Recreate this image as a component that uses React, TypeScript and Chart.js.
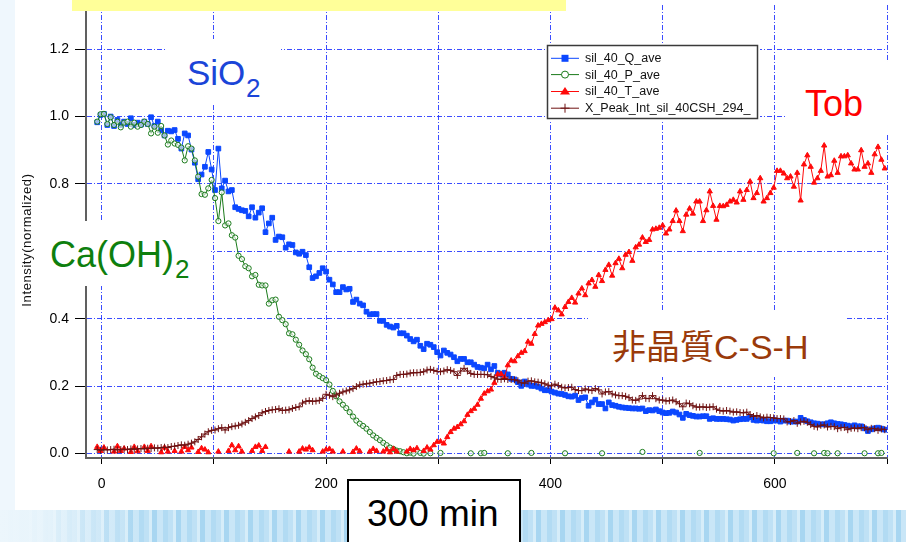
import React, { useEffect, useRef } from 'react';
import { Chart, registerables } from 'chart.js';

Chart.register(...registerables);

// ---------- data ----------
const TIME = [
  -4, -1, 2, 5, 8, 11, 14, 17, 20, 23,
  26, 29, 32, 35, 38, 41, 44, 47, 50, 53,
  56, 59, 62, 65, 68, 71, 74, 77, 80, 83,
  86, 89, 92, 95, 98, 101, 104, 107, 110, 113,
  116, 119, 122, 125, 128, 131, 134, 137, 140, 143,
  146, 149, 152, 155, 158, 161, 164, 167, 170, 173,
  176, 179, 182, 185, 188, 191, 194, 197, 200, 203,
  206, 209, 212, 215, 218, 221, 224, 227, 230, 233,
  236, 239, 242, 245, 248, 251, 254, 257, 260, 263,
  266, 269, 272, 275, 278, 281, 284, 287, 290, 293,
  296, 299, 302, 305, 308, 311, 314, 317, 320, 323,
  326, 329, 332, 335, 338, 341, 344, 347, 350, 353,
  356, 359, 362, 365, 368, 371, 374, 377, 380, 383,
  386, 389, 392, 395, 398, 401, 404, 407, 410, 413,
  416, 419, 422, 425, 428, 431, 434, 437, 440, 443,
  446, 449, 452, 455, 458, 461, 464, 467, 470, 473,
  476, 479, 482, 485, 488, 491, 494, 497, 500, 503,
  506, 509, 512, 515, 518, 521, 524, 527, 530, 533,
  536, 539, 542, 545, 548, 551, 554, 557, 560, 563,
  566, 569, 572, 575, 578, 581, 584, 587, 590, 593,
  596, 599, 602, 605, 608, 611, 614, 617, 620, 623,
  626, 629, 632, 635, 638, 641, 644, 647, 650, 653,
  656, 659, 662, 665, 668, 671, 674, 677, 680, 683,
  686, 689, 692, 695, 698,
];

const SIL_Q = [
  0.983, 1.005, 1.008, 0.975, 1.000, 0.972, 0.990, 0.975, 0.985, 0.978,
  0.995, 0.975, 0.982, 0.976, 0.985, 0.978, 0.998, 0.972, 0.985, 0.960,
  0.944, 0.958, 0.956, 0.960, 0.934, 0.905, 0.950, 0.944, 0.902, 0.863,
  0.814, 0.828, 0.851, 0.895, 0.843, 0.782, 0.905, 0.787, 0.810, 0.778,
  0.782, 0.731, 0.726, 0.722, 0.720, 0.704, 0.731, 0.700, 0.715, 0.728,
  0.657, 0.683, 0.700, 0.634, 0.644, 0.642, 0.611, 0.621, 0.619, 0.597,
  0.593, 0.599, 0.589, 0.553, 0.521, 0.526, 0.536, 0.550, 0.540, 0.516,
  0.502, 0.479, 0.479, 0.494, 0.487, 0.489, 0.450, 0.457, 0.445, 0.440,
  0.421, 0.413, 0.414, 0.414, 0.394, 0.394, 0.382, 0.377, 0.374, 0.379,
  0.357, 0.357, 0.350, 0.340, 0.333, 0.338, 0.320, 0.310, 0.326, 0.323,
  0.316, 0.301, 0.291, 0.306, 0.299, 0.294, 0.286, 0.274, 0.281, 0.281,
  0.271, 0.271, 0.264, 0.257, 0.255, 0.253, 0.264, 0.250, 0.260, 0.240,
  0.235, 0.240, 0.235, 0.222, 0.220, 0.212, 0.201, 0.214, 0.205, 0.201,
  0.201, 0.198, 0.193, 0.188, 0.188, 0.184, 0.181, 0.178, 0.177, 0.174,
  0.170, 0.169, 0.172, 0.159, 0.165, 0.167, 0.142, 0.152, 0.160, 0.147,
  0.147, 0.134, 0.152, 0.144, 0.142, 0.139, 0.137, 0.136, 0.135, 0.134,
  0.134, 0.133, 0.134, 0.126, 0.129, 0.128, 0.131, 0.126, 0.122, 0.120,
  0.121, 0.125, 0.122, 0.116, 0.106, 0.118, 0.114, 0.112, 0.110, 0.110,
  0.111, 0.111, 0.103, 0.105, 0.103, 0.103, 0.103, 0.102, 0.101, 0.098,
  0.100, 0.102, 0.103, 0.103, 0.108, 0.100, 0.098, 0.099, 0.098, 0.096,
  0.096, 0.098, 0.098, 0.095, 0.098, 0.098, 0.095, 0.095, 0.095, 0.106,
  0.100, 0.096, 0.093, 0.090, 0.089, 0.087, 0.087, 0.090, 0.093, 0.090,
  0.088, 0.087, 0.085, 0.083, 0.081, 0.084, 0.081, 0.081, 0.075, 0.067,
  0.072, 0.075, 0.077, 0.074, 0.071,
];

const SIL_P = [
  0.985, 1.007, 1.008, 0.978, 0.998, 0.975, 0.985, 0.968, 0.982, 0.985,
  0.970, 0.982, 0.970, 0.975, 0.985, 0.978, 0.950, 0.970, 0.952, 0.972,
  0.944, 0.917, 0.929, 0.920, 0.916, 0.908, 0.870, 0.912, 0.905, 0.870,
  0.822, 0.770, 0.768, 0.787, 0.812, 0.758, 0.690, 0.775, 0.677, 0.683,
  0.648, 0.641, 0.587, 0.577, 0.556, 0.550, 0.526, 0.530, 0.501, 0.499,
  0.499, 0.445, 0.455, 0.457, 0.406, 0.396, 0.384, 0.357, 0.354, 0.338,
  0.323, 0.306, 0.295, 0.280, 0.255, 0.237, 0.230, 0.224, 0.218, 0.205,
  0.186, 0.170, 0.155, 0.145, 0.135, 0.123, 0.110, 0.098, 0.089, 0.082,
  0.074, 0.064, 0.054, 0.047, 0.040, 0.032, 0.025, 0.018, 0.014, 0.009,
  0.007, 0.004, 0.001, 0.003, 0.000, null, 0.002, 0.000, null, 0.001,
  null, null, 0.002, null, null, null, null, null, null, null,
  null, 0.001, null, null, 0.001, 0.002, null, null, null, null,
  null, null, 0.001, null, null, null, null, null, null, 0.002,
  null, null, null, null, null, null, null, null, null, 0.001,
  null, null, null, null, null, null, null, null, null, null,
  0.001, null, null, null, null, null, null, null, null, null,
  null, null, 0.005, null, null, null, null, null, null, null,
  null, null, null, null, null, null, null, null, null, 0.002,
  null, null, null, null, null, null, null, null, null, null,
  null, null, null, null, null, null, null, null, null, null,
  null, 0.001, null, null, null, null, null, null, 0.002, null,
  null, null, null, 0.001, null, null, 0.002, 0.001, null, null,
  0.001, null, null, null, null, null, null, null, 0.001, null,
  null, null, 0.001, 0.002, null,
];

const SIL_T = [
  0.020, 0.008, 0.018, null, null, 0.006, 0.022, 0.008, 0.015, null,
  0.005, 0.020, 0.007, null, 0.020, 0.008, 0.022, null, null, 0.004,
  0.018, 0.006, null, 0.008, null, 0.006, 0.020, 0.010, 0.018, null,
  0.005, 0.016, 0.012, 0.004, null, null, 0.006, null, null, 0.008,
  0.025, 0.010, 0.022, 0.006, null, null, 0.008, 0.020, 0.024, 0.008,
  0.020, null, null, null, null, null, null, 0.006, null, null,
  0.006, 0.015, 0.012, 0.018, 0.010, null, null, 0.006, 0.012, 0.014,
  0.006, null, null, 0.006, null, null, 0.005, 0.015, 0.007, null,
  null, 0.006, 0.014, 0.008, null, 0.006, 0.012, 0.004, 0.014, 0.006,
  null, null, 0.006, 0.014, 0.010, 0.016, null, 0.008, 0.018, 0.012,
  0.025, 0.035, 0.036, 0.030, 0.049, 0.064, 0.074, 0.079, 0.087, 0.096,
  0.115, 0.126, 0.133, 0.145, 0.163, 0.178, 0.185, 0.190, 0.210, 0.235,
  0.236, 0.226, 0.262, 0.276, 0.274, 0.289, 0.299, 0.304, 0.332, 0.326,
  0.355, 0.380, 0.385, 0.390, 0.396, 0.399, 0.433, 0.425, 0.413, 0.435,
  0.450, 0.462, 0.448, 0.475, 0.490, 0.470, 0.505, 0.515, 0.495, 0.530,
  0.512, 0.545, 0.560, 0.528, 0.565, 0.578, 0.550, 0.590, 0.598, 0.572,
  0.612, 0.620, 0.641, 0.628, 0.634, 0.665, 0.667, 0.670, 0.677, 0.653,
  0.665, 0.690, 0.721, 0.690, 0.660, 0.709, 0.727, 0.712, 0.748, 0.748,
  0.690, 0.722, 0.778, 0.735, 0.694, 0.735, 0.734, 0.738, 0.748, 0.753,
  0.745, 0.778, 0.753, 0.782, 0.807, 0.758, 0.773, 0.817, 0.748, 0.758,
  0.773, 0.789, 0.839, 0.839, 0.831, 0.817, 0.822, 0.792, 0.833, 0.751,
  0.858, 0.885, 0.851, 0.804, 0.817, 0.839, 0.914, 0.822, 0.826, 0.869,
  0.833, 0.882, 0.882, 0.885, 0.861, 0.843, 0.843, 0.900, 0.851, 0.861,
  0.833, 0.888, 0.910, 0.872, 0.846,
];

const CSH_X = [
  0.012, 0.010, 0.012, 0.011, 0.012, 0.013, 0.011, 0.012, 0.013, 0.012,
  0.014, 0.013, 0.014, 0.015, 0.014, 0.016, 0.015, 0.017, 0.016, 0.018,
  0.019, 0.018, 0.021, 0.022, 0.024, 0.026, 0.025, 0.028, 0.031, 0.035,
  0.042, 0.050, 0.058, 0.065, 0.069, 0.070, 0.074, 0.077, 0.070, 0.077,
  0.080, 0.082, 0.084, 0.088, 0.093, 0.098, 0.104, 0.109, 0.113, 0.121,
  0.125, 0.128, 0.130, 0.131, 0.133, 0.128, 0.129, 0.130, 0.134, 0.137,
  0.139, 0.150, 0.155, 0.157, 0.155, 0.156, 0.158, 0.164, 0.176, 0.173,
  0.169, 0.174, 0.179, 0.183, 0.186, 0.189, 0.193, 0.199, 0.204, 0.206,
  0.207, 0.209, 0.211, 0.213, 0.214, 0.216, 0.217, 0.219, 0.220, 0.232,
  0.235, 0.235, 0.236, 0.239, 0.240, 0.240, 0.241, 0.243, 0.248, 0.250,
  0.247, 0.244, 0.243, 0.245, 0.249, 0.247, 0.243, 0.232, 0.245, 0.253,
  0.245, 0.238, 0.235, 0.235, 0.235, 0.235, 0.234, 0.229, 0.225, 0.221,
  0.220, 0.222, 0.220, 0.220, 0.219, 0.216, 0.210, 0.209, 0.215, 0.216,
  0.213, 0.212, 0.210, 0.207, 0.203, 0.201, 0.206, 0.202, 0.197, 0.195,
  0.196, 0.197, 0.190, 0.187, 0.187, 0.192, 0.189, 0.187, 0.193, 0.189,
  0.177, 0.183, 0.184, 0.177, 0.174, 0.172, 0.172, 0.170, 0.166, 0.159,
  0.158, 0.162, 0.172, 0.164, 0.163, 0.172, 0.163, 0.159, 0.159, 0.156,
  0.157, 0.159, 0.154, 0.148, 0.139, 0.150, 0.148, 0.142, 0.138, 0.138,
  0.139, 0.137, 0.138, 0.139, 0.132, 0.128, 0.126, 0.128, 0.126, 0.123,
  0.124, 0.122, 0.121, 0.123, 0.116, 0.110, 0.113, 0.109, 0.106, 0.108,
  0.107, 0.106, 0.104, 0.104, 0.103, 0.094, 0.095, 0.098, 0.090, 0.094,
  0.096, 0.093, 0.086, 0.081, 0.079, 0.084, 0.085, 0.079, 0.081, 0.080,
  0.074, 0.077, 0.078, 0.071, 0.075, 0.076, 0.074, 0.077, 0.077, 0.071,
  0.075, 0.074, 0.069, 0.073, 0.071,
];

const SERIES_NAMES = ['sil_40_Q_ave', 'sil_40_P_ave', 'sil_40_T_ave', 'X_Peak_Int_sil_40CSH_294_'];
const X_TICKS = [0, 100, 200, 300, 400, 500, 600, 700];
const X_TICK_LABELS = ['0', '', '200', '', '400', '', '600', ''];
const Y_TICKS = [0, 0.2, 0.4, 0.6, 0.8, 1.0, 1.2];
const Y_TICK_LABELS = ['0.0', '0.2', '0.4', '0.6', '0.8', '1.0', '1.2'];
const Y_TITLE = 'Intensity(normalized)';

const LABEL_SIO = 'SiO';
const LABEL_CAOH = 'Ca(OH)';
const LABEL_SUB = '2';
const LABEL_TOB = 'Tob';
const LABEL_CSH = '非晶質C-S-H';
const LABEL_TIME = '300 min';

// ---------- styles ----------
const BLUE = '#0b47ff';
const GREEN = '#1a7a1a';
const RED = '#ff0a0a';
const BROWN = '#6e1212';
const GRID = 'rgba(25,45,255,0.85)';
const AXIS = '#606060';
const SANS = "'Liberation Sans', Arial, 'Noto Sans CJK JP', sans-serif";

const STYLES = [
  { color: BLUE, fill: BLUE, marker: 'rect' },
  { color: GREEN, fill: 'rgba(255,255,255,0.6)', marker: 'circle' },
  { color: RED, fill: RED, marker: 'triangle' },
  { color: BROWN, fill: BROWN, marker: 'cross' },
];

function drawMarker(ctx: CanvasRenderingContext2D, kind: string, x: number, y: number, color: string, fill: string) {
  ctx.save();
  ctx.strokeStyle = color;
  ctx.fillStyle = fill;
  ctx.lineWidth = 1;
  ctx.beginPath();
  if (kind === 'rect') {
    ctx.rect(x - 3.5, y - 3.5, 7, 7);
    ctx.fill();
  } else if (kind === 'circle') {
    ctx.fillStyle = '#fff';
    ctx.arc(x, y, 3.5, 0, Math.PI * 2);
    ctx.fill();
    ctx.stroke();
  } else if (kind === 'triangle') {
    ctx.moveTo(x, y - 4.5);
    ctx.lineTo(x + 5, y + 3);
    ctx.lineTo(x - 5, y + 3);
    ctx.closePath();
    ctx.fill();
  } else {
    ctx.moveTo(x - 4.5, y);
    ctx.lineTo(x + 4.5, y);
    ctx.moveTo(x, y - 4.5);
    ctx.lineTo(x, y + 4.5);
    ctx.stroke();
  }
  ctx.restore();
}

const overlayPlugin = {
  id: 'overlay',
  afterDraw(chart: any) {
    const ctx: CanvasRenderingContext2D = chart.ctx;
    // y axis title
    ctx.save();
    ctx.translate(27.5, 240);
    ctx.rotate(-Math.PI / 2);
    ctx.font = `13px ${SANS}`;
    try { (ctx as any).letterSpacing = '0.6px'; } catch (e) { /* ignore */ }
    ctx.fillStyle = '#111';
    ctx.textAlign = 'center';
    ctx.textBaseline = 'middle';
    ctx.fillText(Y_TITLE, 0, 0);
    ctx.restore();

    // legend
    ctx.save();
    ctx.fillStyle = '#fff';
    ctx.fillRect(545, 43, 215, 78);
    ctx.strokeStyle = '#3a3a3a';
    ctx.lineWidth = 1.5;
    ctx.strokeRect(547.5, 45.5, 210, 73);
    const rows = [58.3, 74.6, 91.5, 108.2];
    ctx.font = `12.5px ${SANS}`;
    ctx.textBaseline = 'middle';
    ctx.textAlign = 'left';
    SERIES_NAMES.forEach((name, i) => {
      const st = STYLES[i];
      const y = rows[i];
      ctx.strokeStyle = st.color;
      ctx.lineWidth = 1;
      ctx.beginPath();
      ctx.moveTo(551, y);
      ctx.lineTo(579, y);
      ctx.stroke();
      drawMarker(ctx, st.marker, 565, y, st.color, st.fill);
      ctx.fillStyle = '#111';
      ctx.fillText(name, 585, y + 0.5);
    });
    ctx.restore();
  },
};

function makeDataset(i: number, values: (number | null)[], radius: number, order: number) {
  const st = STYLES[i];
  return {
    label: SERIES_NAMES[i],
    data: TIME.map((t, k) => ({ x: t, y: values[k] })),
    borderColor: st.color,
    backgroundColor: st.fill,
    borderWidth: 1,
    pointStyle: st.marker === 'cross' ? 'cross' : st.marker,
    pointRadius: radius,
    pointBorderWidth: 1,
    pointBorderColor: st.color,
    pointBackgroundColor: st.fill,
    tension: 0,
    spanGaps: false,
    order,
  };
}

function Txt(props: { x: number; base: number; size: number; color: string; text: string }) {
  const { x, base, size, color, text } = props;
  return (
    <div
      style={{
        position: 'absolute',
        left: x,
        top: base - 0.8465 * size,
        fontSize: size,
        lineHeight: `${size}px`,
        color,
        fontFamily: SANS,
        whiteSpace: 'nowrap',
      }}
    >
      {text}
    </div>
  );
}

function WhiteBox(props: { x: number; y: number; w: number; h: number }) {
  return <div style={{ position: 'absolute', left: props.x, top: props.y, width: props.w, height: props.h, background: '#fff' }} />;
}

export default function App() {
  const ref = useRef<HTMLCanvasElement | null>(null);

  useEffect(() => {
    if (!ref.current) return;
    const tickFont = { family: SANS, size: 14 };
    const chart = new Chart(ref.current, {
      type: 'line',
      data: {
        datasets: [
          makeDataset(0, SIL_Q, 3.3, 3),
          makeDataset(1, SIL_P, 2.6, 2),
          makeDataset(2, SIL_T, 3.0, 1),
          makeDataset(3, CSH_X, 3.5, 0),
        ] as any,
      },
      options: {
        animation: false,
        responsive: false,
        maintainAspectRatio: false,
        events: [],
        layout: { padding: { left: 0, right: 19, top: 0, bottom: 0 } },
        plugins: { legend: { display: false }, tooltip: { enabled: false } },
        scales: {
          x: {
            type: 'linear',
            min: -14,
            max: 700,
            afterBuildTicks: (s: any) => {
              s.ticks = X_TICKS.map((v) => ({ value: v }));
            },
            afterFit: (s: any) => {
              s.height = 84;
              s.paddingLeft = 0;
              s.paddingRight = 0;
              s.paddingTop = 0;
              s.paddingBottom = 0;
            },
            ticks: {
              autoSkip: false,
              maxRotation: 0,
              padding: 12,
              color: '#000',
              font: tickFont,
              callback: (v: any) => X_TICK_LABELS[X_TICKS.indexOf(Number(v))] ?? '',
            },
            grid: { color: GRID, lineWidth: 1, tickLength: 6, tickColor: '#000', tickWidth: 1 },
            border: { display: true, color: AXIS, width: 2, dash: [5, 2, 1, 2] },
          },
          y: {
            type: 'linear',
            min: -0.013,
            max: 1.331,
            afterBuildTicks: (s: any) => {
              s.ticks = Y_TICKS.map((v) => ({ value: v }));
            },
            afterFit: (s: any) => {
              s.width = 86;
              s.paddingLeft = 0;
              s.paddingRight = 0;
              s.paddingTop = 0;
              s.paddingBottom = 0;
            },
            ticks: {
              padding: 6,
              color: '#000',
              font: tickFont,
              callback: (v: any) => {
                const idx = Y_TICKS.findIndex((t) => Math.abs(t - Number(v)) < 1e-6);
                return idx >= 0 ? Y_TICK_LABELS[idx] : '';
              },
            },
            grid: { color: GRID, lineWidth: 1, tickLength: 11, tickColor: '#000', tickWidth: 1 },
            border: { display: true, color: AXIS, width: 2, dash: [5, 2, 1, 2] },
          },
        },
      } as any,
      plugins: [overlayPlugin],
    });
    return () => chart.destroy();
  }, []);

  const band =
    'linear-gradient(90deg, rgba(236,246,252,1) 0px, rgba(236,246,252,0.9) 40px, rgba(236,246,252,0) 140px), ' +
    'repeating-linear-gradient(90deg, #bfe1f5 0px, #bfe1f5 5px, #d6edf9 5px, #d6edf9 8px, #a8d6f1 8px, #a8d6f1 13px, #c9e6f7 13px, #c9e6f7 19px, #b2dbf3 19px, #b2dbf3 24px)';

  return (
    <div style={{ position: 'fixed', left: 0, top: 0, width: 906, height: 542, overflow: 'hidden', background: '#eff7fd' }}>
      <div style={{ position: 'absolute', left: 15, top: 0, width: 891, height: 510, background: '#fff' }} />
      <div style={{ position: 'absolute', left: 0, top: 510, width: 906, height: 32, background: band }} />
      <canvas ref={ref} width={906} height={542} style={{ position: 'absolute', left: 0, top: 0 }} />

      <div style={{ position: 'absolute', left: 72, top: 0, width: 494, height: 11, background: '#ffff99' }} />

      <WhiteBox x={166} y={39} w={115} h={66} />
      <Txt x={187} base={85} size={35} color="#1b45d8" text={LABEL_SIO} />
      <Txt x={246} base={97} size={26} color="#1b45d8" text={LABEL_SUB} />

      <WhiteBox x={40} y={221} w={171} h={65} />
      <Txt x={50} base={267} size={36} color="#0e7f0e" text={LABEL_CAOH} />
      <Txt x={175} base={278} size={26} color="#0e7f0e" text={LABEL_SUB} />

      <WhiteBox x={786} y={62} w={120} h={73} />
      <Txt x={805} base={116} size={36} color="#ff0000" text={LABEL_TOB} />

      <WhiteBox x={588} y={311} w={257} h={66} />
      <Txt x={612} base={359} size={34} color="#9a3a0a" text={LABEL_CSH} />

      <div
        style={{
          position: 'absolute',
          left: 347,
          top: 479,
          width: 174,
          height: 80,
          background: '#fff',
          border: '2px solid #000',
          boxSizing: 'border-box',
        }}
      />
      <Txt x={367} base={526} size={37} color="#000" text={LABEL_TIME} />
    </div>
  );
}
